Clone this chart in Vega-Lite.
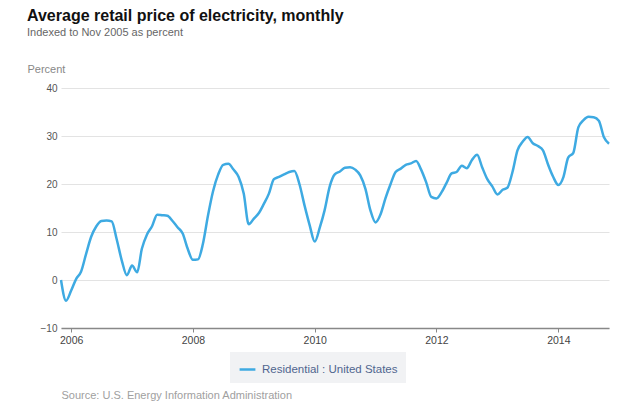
{
  "$schema": "https://vega.github.io/schema/vega-lite/v6.json",
  "width": 548,
  "height": 240,
  "autosize": "none",
  "padding": {"left": 61, "top": 88, "right": 12, "bottom": 76},
  "background": "white",
  "config": {
    "font": "Liberation Sans",
    "view": {"stroke": null}
  },
  "title": {
    "text": "Average retail price of electricity, monthly",
    "subtitle": "Indexed to Nov 2005 as percent",
    "anchor": "start",
    "frame": "group",
    "dx": -34,
    "offset": 52,
    "dy": 27,
    "fontSize": 16,
    "fontWeight": "bold",
    "color": "#111111",
    "subtitleFontSize": 11,
    "subtitleColor": "#666666",
    "subtitlePadding": 3
  },
  "data": {
    "values": [
      {"date": "2005-11", "value": 0.0},
      {"date": "2005-12", "value": -4.3},
      {"date": "2006-01", "value": -2.2},
      {"date": "2006-02", "value": 0.3},
      {"date": "2006-03", "value": 1.7},
      {"date": "2006-04", "value": 5.5},
      {"date": "2006-05", "value": 9.0},
      {"date": "2006-06", "value": 11.2},
      {"date": "2006-07", "value": 12.3},
      {"date": "2006-08", "value": 12.4},
      {"date": "2006-09", "value": 12.2},
      {"date": "2006-10", "value": 8.5},
      {"date": "2006-11", "value": 4.0},
      {"date": "2006-12", "value": 1.0},
      {"date": "2007-01", "value": 3.0},
      {"date": "2007-02", "value": 1.6},
      {"date": "2007-03", "value": 6.5},
      {"date": "2007-04", "value": 9.5},
      {"date": "2007-05", "value": 11.2},
      {"date": "2007-06", "value": 13.6},
      {"date": "2007-07", "value": 13.5},
      {"date": "2007-08", "value": 13.4},
      {"date": "2007-09", "value": 12.3},
      {"date": "2007-10", "value": 11.0},
      {"date": "2007-11", "value": 9.7},
      {"date": "2007-12", "value": 6.5},
      {"date": "2008-01", "value": 4.2},
      {"date": "2008-02", "value": 4.3},
      {"date": "2008-03", "value": 7.5},
      {"date": "2008-04", "value": 13.5},
      {"date": "2008-05", "value": 18.5},
      {"date": "2008-06", "value": 22.0},
      {"date": "2008-07", "value": 24.0},
      {"date": "2008-08", "value": 24.2},
      {"date": "2008-09", "value": 23.0},
      {"date": "2008-10", "value": 21.5},
      {"date": "2008-11", "value": 18.0},
      {"date": "2008-12", "value": 11.6},
      {"date": "2009-01", "value": 12.8},
      {"date": "2009-02", "value": 14.0},
      {"date": "2009-03", "value": 15.8},
      {"date": "2009-04", "value": 18.0},
      {"date": "2009-05", "value": 21.0},
      {"date": "2009-06", "value": 21.5},
      {"date": "2009-07", "value": 22.0},
      {"date": "2009-08", "value": 22.5},
      {"date": "2009-09", "value": 22.7},
      {"date": "2009-10", "value": 20.0},
      {"date": "2009-11", "value": 15.5},
      {"date": "2009-12", "value": 11.5},
      {"date": "2010-01", "value": 8.0},
      {"date": "2010-02", "value": 11.0},
      {"date": "2010-03", "value": 14.5},
      {"date": "2010-04", "value": 19.5},
      {"date": "2010-05", "value": 22.0},
      {"date": "2010-06", "value": 22.6},
      {"date": "2010-07", "value": 23.4},
      {"date": "2010-08", "value": 23.5},
      {"date": "2010-09", "value": 23.0},
      {"date": "2010-10", "value": 21.8},
      {"date": "2010-11", "value": 19.0},
      {"date": "2010-12", "value": 14.5},
      {"date": "2011-01", "value": 12.0},
      {"date": "2011-02", "value": 13.8},
      {"date": "2011-03", "value": 17.0},
      {"date": "2011-04", "value": 20.0},
      {"date": "2011-05", "value": 22.5},
      {"date": "2011-06", "value": 23.2},
      {"date": "2011-07", "value": 24.0},
      {"date": "2011-08", "value": 24.3},
      {"date": "2011-09", "value": 24.8},
      {"date": "2011-10", "value": 23.0},
      {"date": "2011-11", "value": 20.3},
      {"date": "2011-12", "value": 17.3},
      {"date": "2012-01", "value": 17.0},
      {"date": "2012-02", "value": 18.3},
      {"date": "2012-03", "value": 20.2},
      {"date": "2012-04", "value": 22.2},
      {"date": "2012-05", "value": 22.5},
      {"date": "2012-06", "value": 23.8},
      {"date": "2012-07", "value": 23.3},
      {"date": "2012-08", "value": 25.0},
      {"date": "2012-09", "value": 26.1},
      {"date": "2012-10", "value": 23.5},
      {"date": "2012-11", "value": 21.0},
      {"date": "2012-12", "value": 19.5},
      {"date": "2013-01", "value": 17.8},
      {"date": "2013-02", "value": 18.8},
      {"date": "2013-03", "value": 19.2},
      {"date": "2013-04", "value": 22.5},
      {"date": "2013-05", "value": 27.0},
      {"date": "2013-06", "value": 28.8},
      {"date": "2013-07", "value": 29.8},
      {"date": "2013-08", "value": 28.5},
      {"date": "2013-09", "value": 27.9},
      {"date": "2013-10", "value": 27.0},
      {"date": "2013-11", "value": 24.0},
      {"date": "2013-12", "value": 21.5},
      {"date": "2014-01", "value": 19.8},
      {"date": "2014-02", "value": 21.5},
      {"date": "2014-03", "value": 25.5},
      {"date": "2014-04", "value": 26.5},
      {"date": "2014-05", "value": 31.8},
      {"date": "2014-06", "value": 33.3},
      {"date": "2014-07", "value": 34.0},
      {"date": "2014-08", "value": 33.9},
      {"date": "2014-09", "value": 33.2},
      {"date": "2014-10", "value": 29.8},
      {"date": "2014-11", "value": 28.4}
    ],
    "format": {"parse": {"date": "date:'%Y-%m'"}}
  },
  "transform": [{"calculate": "'Residential : United States'", "as": "series"}],
  "mark": {"type": "line", "strokeWidth": 2.5, "interpolate": "monotone"},
  "encoding": {
    "x": {
      "field": "date",
      "type": "temporal",
      "scale": {"domain": [{"year": 2005, "month": 11, "date": 1}, {"year": 2014, "month": 11, "date": 1}]},
      "axis": {
        "title": "Source: U.S. Energy Information Administration",
        "titleX": 0,
        "titleY": 61,
        "titleAlign": "left",
        "titleAnchor": "start",
        "titleFontSize": 11,
        "titleFontWeight": "normal",
        "titleColor": "#a0a0a0",
        "format": "%Y",
        "tickCount": {"interval": "year", "step": 2},
        "grid": false,
        "domainColor": "#888888",
        "domainWidth": 1.5,
        "tickColor": "#888888",
        "tickSize": 4,
        "labelFontSize": 10.5,
        "labelColor": "#444444",
        "labelPadding": 3
      }
    },
    "y": {
      "field": "value",
      "type": "quantitative",
      "scale": {"domain": [-10, 40], "nice": false},
      "axis": {
        "title": "Percent",
        "titleAngle": 0,
        "titleX": -34,
        "titleY": -14,
        "titleAlign": "left",
        "titleBaseline": "bottom",
        "titleFontSize": 11,
        "titleFontWeight": "normal",
        "titleColor": "#888888",
        "values": [-10, 0, 10, 20, 30, 40],
        "domain": false,
        "ticks": false,
        "gridColor": "#e3e3e3",
        "gridWidth": 1.2,
        "labelFontSize": 10,
        "labelColor": "#555555",
        "labelPadding": 4
      }
    },
    "color": {
      "field": "series",
      "type": "nominal",
      "scale": {"range": ["#3eaae2"]},
      "legend": {
        "title": null,
        "orient": "none",
        "legendX": 169,
        "legendY": 264,
        "direction": "horizontal",
        "symbolType": "stroke",
        "symbolStrokeWidth": 2.5,
        "symbolSize": 250,
        "labelFontSize": 11.5,
        "labelColor": "#50658f",
        "fillColor": "#f1f2f4",
        "padding": 8,
        "labelOffset": 5
      }
    }
  }
}
